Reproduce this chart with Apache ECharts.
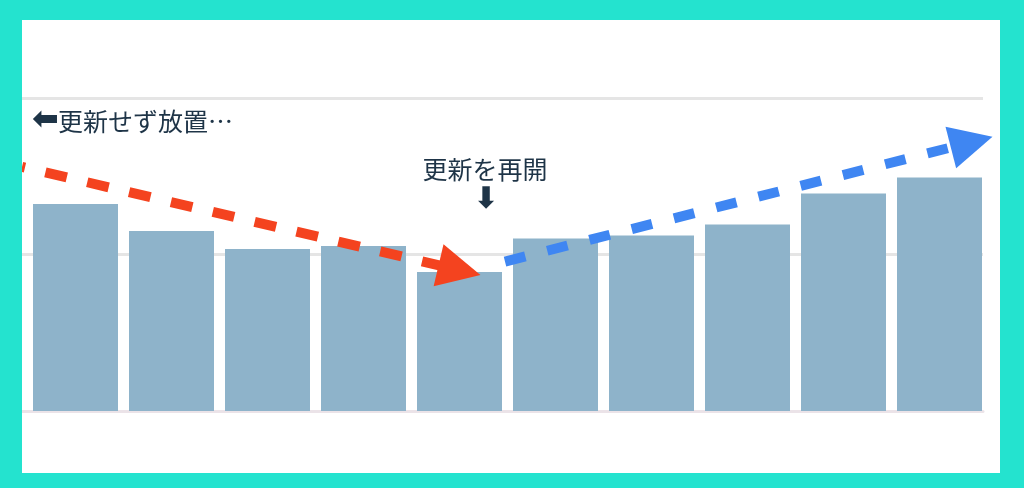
<!DOCTYPE html>
<html>
<head>
<meta charset="utf-8">
<script src="https://cdn.jsdelivr.net/npm/echarts@6/dist/echarts.min.js"></script>
<style>
html,body{margin:0;padding:0;width:1024px;height:488px;background:#24E3CF;overflow:hidden;}
#chart{position:absolute;left:22px;top:20px;width:978px;height:453px;background:#ffffff;}
</style>
</head>
<body>
<div id="chart"></div>
<script>
// Data
const periods = [1, 2, 3, 4, 5, 6, 7, 8, 9, 10];
const values = [132.3, 115.0, 103.5, 105.4, 88.8, 110.2, 112.1, 119.2, 139.0, 149.2];
const yTicks = [0, 100, 200];
// Trend arrows in data space: [periodIndex, value]
const declineArrow = [[-0.557, 156.0], [4.0, 90.0]];
const recoveryArrow = [[4.474, 95.5], [9.335, 171.8]];
const leftNote = '更新せず放置…';
const resumeNote = '更新を再開';

const chart = echarts.init(document.getElementById('chart'), null, {renderer: 'canvas'});

const barData = values.map((v, i) => [i, v]);

function arrowSeries(pts, color, dash, offset) {
  return {
    type: 'line',
    data: [],
    silent: true,
    clip: false,
    animation: false,
    markLine: {
      silent: true,
      animation: false,
      symbol: ['none', 'triangle'],
      symbolSize: 43,
      label: {show: false},
      emphasis: {disabled: true},
      itemStyle: {color: color},
      lineStyle: {color: color, width: 10, type: dash, dashOffset: offset, opacity: 1, cap: 'butt'},
      data: [[{coord: pts[0]}, {coord: pts[1]}]]
    }
  };
}

chart.setOption({
  animation: false,
  grid: {left: 0, right: 17, top: 78, bottom: 62},
  xAxis: {
    type: 'value',
    min: -0.5573,
    max: 9.4531,
    axisLabel: {show: false},
    axisTick: {show: false},
    splitLine: {show: false},
    axisLine: {show: true, lineStyle: {color: '#ebe3e8', width: 3}}
  },
  yAxis: {
    type: 'value',
    min: yTicks[0],
    max: yTicks[yTicks.length - 1],
    interval: yTicks[1] - yTicks[0],
    axisLabel: {show: false},
    axisTick: {show: false},
    axisLine: {show: false},
    splitLine: {show: true, lineStyle: {color: '#e5e5e5', width: 3}}
  },
  series: [
    {
      type: 'bar',
      data: barData,
      barWidth: 85,
      silent: true,
      itemStyle: {color: '#8EB3CA'}
    },
    arrowSeries(declineArrow, '#F4431F', [22, 21], 19),
    arrowSeries(recoveryArrow, '#3F86F2', [21, 22.6], 0)
  ],
  graphic: [
    {type: 'text', x: 10, y: 101, silent: true,
     style: {text: '⬅', fill: '#1E3447', font: 'bold 32px "DejaVu Sans"', align: 'left', verticalAlign: 'middle'}},
    {type: 'text', x: 36, y: 101, silent: true,
     style: {text: leftNote, fill: '#1E3447', font: '25px "Noto Sans CJK JP"', align: 'left', verticalAlign: 'middle'}},
    {type: 'text', x: 463, y: 149, silent: true,
     style: {text: resumeNote, fill: '#1E3447', font: '25px "Noto Sans CJK JP"', align: 'center', verticalAlign: 'middle'}},
    {type: 'text', x: 464, y: 180, silent: true,
     style: {text: '⬇', fill: '#1E3447', font: 'bold 30px "DejaVu Sans"', align: 'center', verticalAlign: 'middle'}}
  ]
});
</script>
</body>
</html>
